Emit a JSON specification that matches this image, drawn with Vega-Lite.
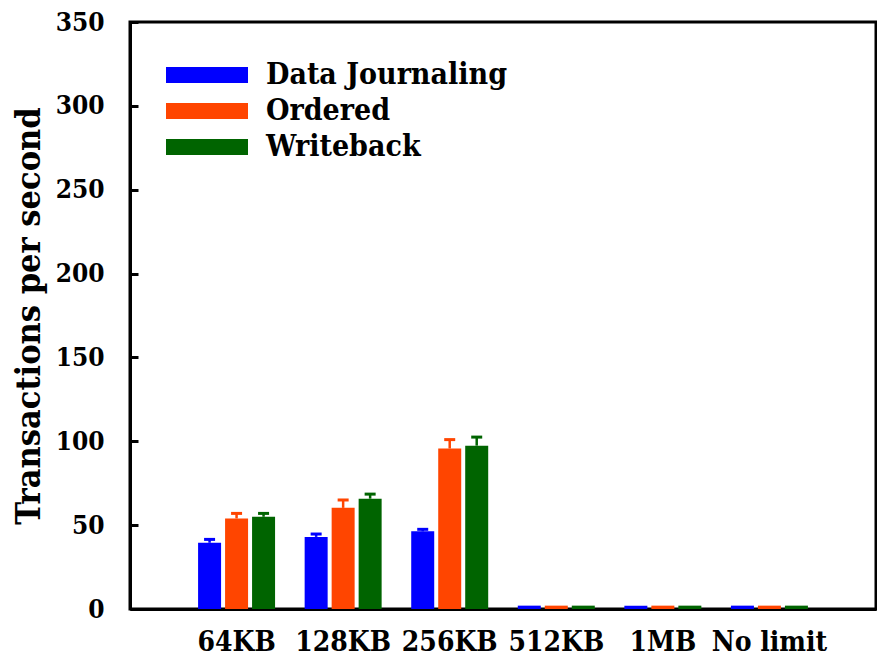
{
  "$schema": "https://vega.github.io/schema/vega-lite/v6.json",
  "width": 746,
  "height": 587,
  "autosize": {"type": "none"},
  "padding": {"left": 130, "top": 22, "right": 1, "bottom": 48},
  "background": "white",
  "config": {
    "view": {"stroke": "black", "strokeWidth": 3},
    "font": "DejaVu Serif Condensed, DejaVu Serif",
    "axis": {
      "labelFont": "DejaVu Serif Condensed, DejaVu Serif",
      "labelFontWeight": "bold",
      "labelColor": "black",
      "titleFont": "DejaVu Serif Condensed, DejaVu Serif",
      "titleFontWeight": "bold",
      "titleColor": "black",
      "grid": false,
      "domainColor": "black",
      "domainWidth": 3,
      "tickColor": "black"
    }
  },
  "data": {
    "values": [
      {"limit": "64KB", "mode": "Data Journaling", "tps": 39.5, "hi": 41.5},
      {"limit": "64KB", "mode": "Ordered", "tps": 54.0, "hi": 57.0},
      {"limit": "64KB", "mode": "Writeback", "tps": 55.0, "hi": 57.0},
      {"limit": "128KB", "mode": "Data Journaling", "tps": 43.0, "hi": 44.7},
      {"limit": "128KB", "mode": "Ordered", "tps": 60.3, "hi": 65.0},
      {"limit": "128KB", "mode": "Writeback", "tps": 65.8, "hi": 68.5},
      {"limit": "256KB", "mode": "Data Journaling", "tps": 46.3, "hi": 47.5},
      {"limit": "256KB", "mode": "Ordered", "tps": 95.7, "hi": 101.0},
      {"limit": "256KB", "mode": "Writeback", "tps": 97.4, "hi": 102.5},
      {"limit": "512KB", "mode": "Data Journaling", "tps": 2.0, "hi": null},
      {"limit": "512KB", "mode": "Ordered", "tps": 2.0, "hi": null},
      {"limit": "512KB", "mode": "Writeback", "tps": 2.0, "hi": null},
      {"limit": "1MB", "mode": "Data Journaling", "tps": 2.0, "hi": null},
      {"limit": "1MB", "mode": "Ordered", "tps": 2.0, "hi": null},
      {"limit": "1MB", "mode": "Writeback", "tps": 2.0, "hi": null},
      {"limit": "No limit", "mode": "Data Journaling", "tps": 2.0, "hi": null},
      {"limit": "No limit", "mode": "Ordered", "tps": 2.0, "hi": null},
      {"limit": "No limit", "mode": "Writeback", "tps": 2.0, "hi": null}
    ]
  },
  "encoding": {
    "x": {
      "field": "limit",
      "type": "nominal",
      "sort": ["64KB", "128KB", "256KB", "512KB", "1MB", "No limit"],
      "scale": {"paddingInner": 0, "paddingOuter": 0.5},
      "axis": {
        "title": null,
        "labelAngle": 0,
        "labelFontSize": 28,
        "labelPadding": 19,
        "ticks": false
      }
    },
    "xOffset": {
      "field": "mode",
      "type": "nominal",
      "sort": ["Data Journaling", "Ordered", "Writeback"],
      "scale": {"paddingInner": 0.148, "paddingOuter": 0.548}
    },
    "color": {
      "field": "mode",
      "type": "nominal",
      "sort": ["Data Journaling", "Ordered", "Writeback"],
      "scale": {
        "domain": ["Data Journaling", "Ordered", "Writeback"],
        "range": ["#0000ff", "#ff4500", "#006400"]
      },
      "legend": {
        "title": null,
        "orient": "none",
        "legendX": 62,
        "legendY": 38,
        "direction": "vertical",
        "symbolType": "M-5.125,-1H5.125V1H-5.125Z",
        "symbolSize": 256,
        "symbolStrokeWidth": 0,
        "symbolOpacity": 1,
        "labelFont": "DejaVu Serif Condensed, DejaVu Serif",
        "labelFontWeight": "bold",
        "labelFontSize": 30,
        "labelColor": "black",
        "labelLimit": 0,
        "labelOffset": 44,
        "rowPadding": 6,
        "padding": 0
      }
    }
  },
  "layer": [
    {
      "mark": {"type": "bar", "opacity": 1},
      "encoding": {
        "y": {
          "field": "tps",
          "type": "quantitative",
          "scale": {"domain": [0, 350], "nice": false},
          "axis": {
            "title": "Transactions per second",
            "titleFontSize": 34,
            "titlePadding": 9,
            "values": [0, 50, 100, 150, 200, 250, 300, 350],
            "labelFontSize": 26,
            "labelPadding": 34,
            "tickSize": -8,
            "tickWidth": 3
          }
        }
      }
    },
    {
      "transform": [{"filter": "datum.hi != null"}],
      "mark": {"type": "rule", "strokeWidth": 2.5},
      "encoding": {
        "y": {"field": "tps", "type": "quantitative"},
        "y2": {"field": "hi"}
      }
    },
    {
      "transform": [{"filter": "datum.hi != null"}],
      "mark": {"type": "tick", "size": 11, "thickness": 3, "opacity": 1},
      "encoding": {
        "y": {"field": "hi", "type": "quantitative"}
      }
    }
  ]
}
